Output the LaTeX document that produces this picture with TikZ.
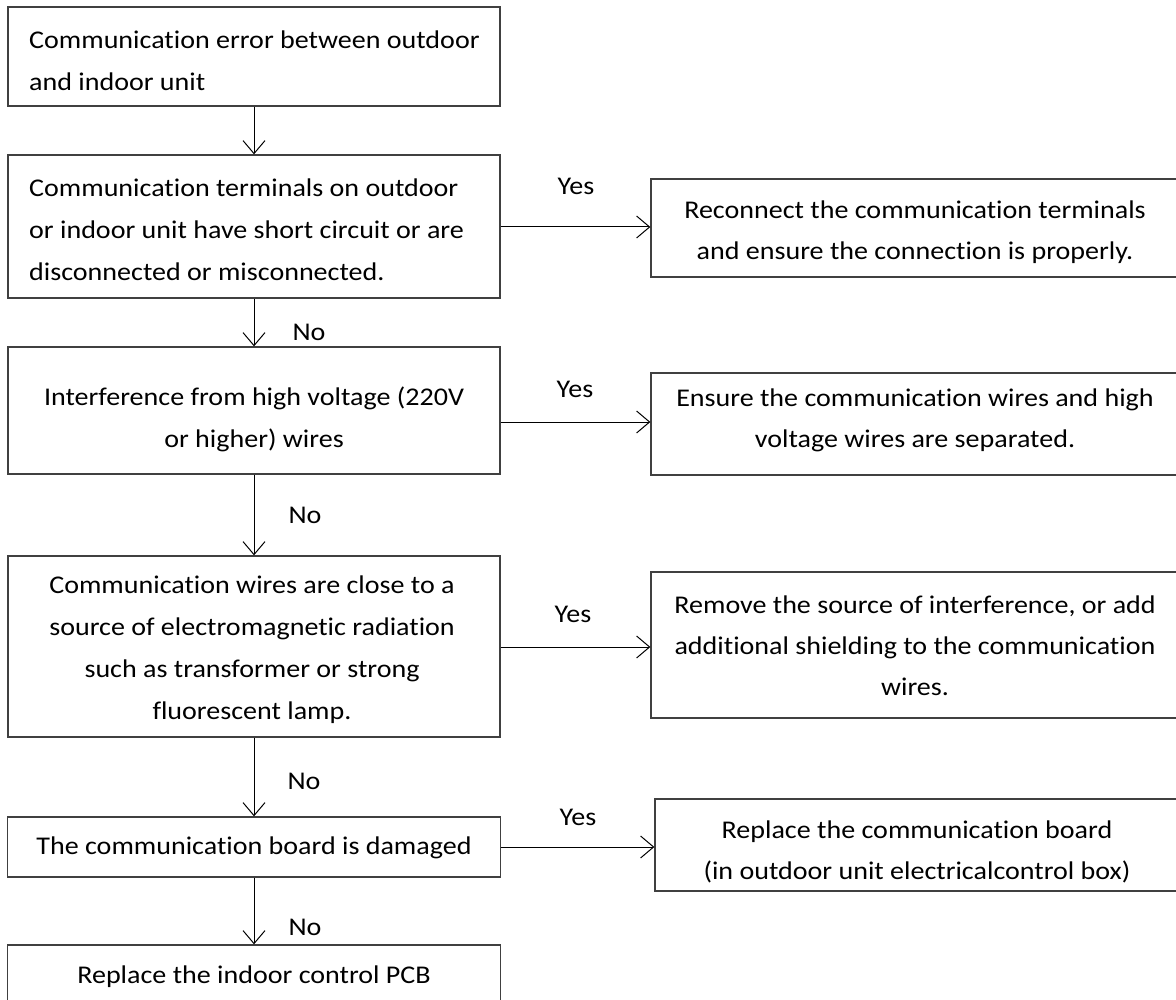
\documentclass[tikz,border=0pt]{standalone}
\usepackage{fontspec}
\setmainfont[Ligatures=CommonOff, FakeStretch=1.1]{Carlito}
\usetikzlibrary{arrows.meta}
\tikzset{
  box/.style={draw=black!75, line width=1.3pt, rectangle, inner sep=0pt},
  txt/.style={font=\fontsize{25.5}{42}\selectfont, inner sep=0pt, align=center},
  rtxt/.style={font=\fontsize{25.5}{41}\selectfont, inner sep=0pt, align=center},
  lbl/.style={font=\fontsize{25.5}{30}\selectfont, inner sep=0pt},
  arr/.style={line width=1pt, -{Straight Barb[length=13pt,width=22pt,line width=1pt]}},
}
\begin{document}
\begin{tikzpicture}[x=1pt,y=-1pt]
\useasboundingbox (0,0) rectangle (1176,1000);
% left column boxes
\node[box, minimum width=492pt, minimum height=99pt] (b1) at (254,56.5) {};
\node[txt, align=left, anchor=west] (t1) at (29,61) {Communication error between outdoor\\and indoor unit};
\node[box, minimum width=492pt, minimum height=143pt] (b2) at (254,226.5) {};
\node[txt, align=left, anchor=west] (t2) at (29,230) {Communication terminals on outdoor\\or indoor unit have short circuit or are\\disconnected or misconnected.};
\node[box, minimum width=492pt, minimum height=127pt] (b3) at (254,410.5) {};
\node[txt] (t3) at (254,419.5) {Interference from high voltage (220V\\or higher) wires};
\node[box, minimum width=492pt, minimum height=181pt] (b4) at (254,646.5) {};
\node[txt] (t4) at (252,650) {Communication wires are close to a\\source of electromagnetic radiation\\such as transformer or strong\\fluorescent lamp.};
\node[box, minimum width=493pt, minimum height=60pt] (b5) at (254,847) {};
\node[txt] (t5) at (254,848) {The communication board is damaged};
\node[box, minimum width=493pt, minimum height=70pt] (b6) at (254,980) {};
\node[txt] (t6) at (254,977) {Replace the indoor control PCB};
% right column boxes
\node[box, minimum width=529pt, minimum height=98pt] (r1) at (915.5,228) {};
\node[rtxt] (s1) at (915,232) {Reconnect the communication terminals\\and ensure the connection is properly.};
\node[box, minimum width=529pt, minimum height=102pt] (r2) at (915.5,424) {};
\node[rtxt] (s2) at (915,420) {Ensure the communication wires and high\\voltage wires are separated.};
\node[box, minimum width=529pt, minimum height=146pt] (r3) at (915.5,645) {};
\node[rtxt] (s3) at (915,645.5) {Remove the source of interference, or add\\additional shielding to the communication\\wires.};
\node[box, minimum width=525pt, minimum height=92pt] (r4) at (917.5,845) {};
\node[rtxt] (s4) at (917,852) {Replace the communication board\\(in outdoor unit electricalcontrol box)};
% vertical connectors
\draw[arr] (b1.south) -- (b2.north);
\draw[arr] (b2.south) -- (b3.north);
\draw[arr] (b3.south) -- (b4.north);
\draw[arr] (b4.south) -- (b5.north);
\draw[arr] (b5.south) -- (b6.north);
% horizontal connectors
\draw[arr] (b2.east |- 0,227) -- (r1.west |- 0,227);
\draw[arr] (b3.east |- 0,422) -- (r2.west |- 0,422);
\draw[arr] (b4.east |- 0,647) -- (r3.west |- 0,647);
\draw[arr] (b5.east |- 0,847) -- (r4.west |- 0,847);
% labels
\node[lbl] (y1) at (576,186) {Yes};
\node[lbl] (y2) at (575,389) {Yes};
\node[lbl] (y3) at (573,614) {Yes};
\node[lbl] (y4) at (578,817) {Yes};
\node[lbl] (n1) at (309,332) {No};
\node[lbl] (n2) at (305,515) {No};
\node[lbl] (n3) at (304,781) {No};
\node[lbl] (n4) at (305,927) {No};
\end{tikzpicture}
\end{document}
